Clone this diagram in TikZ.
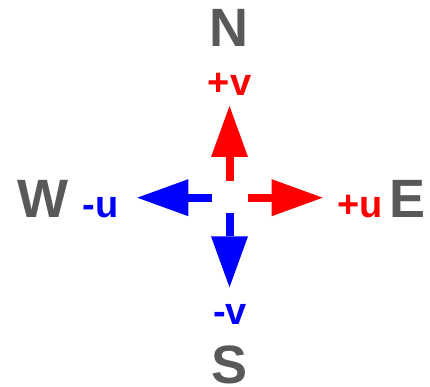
\documentclass[tikz,border=0pt]{standalone}
\usepackage{fontspec}
\setmainfont{Liberation Sans}
\usetikzlibrary{arrows.meta}
\definecolor{cardgray}{HTML}{595959}
\definecolor{vred}{HTML}{FF0000}
\definecolor{vblue}{HTML}{0000FF}
\tikzset{
  cardinal/.style={anchor=base, inner sep=0pt, text=cardgray, font=\fontsize{54}{54}\selectfont\bfseries},
  comp/.style={anchor=base, inner sep=0pt, font=\fontsize{38}{38}\selectfont\bfseries},
  vecarrow/.style={line width=8pt, -{Triangle[length=51pt,width=37pt,line width=0pt]}}
}
\begin{document}
\begin{tikzpicture}[x=1pt,y=-1pt]
  \useasboundingbox (0,0) rectangle (430,387);
  % cardinal letters
  \node[cardinal] (N) at (229,47) {N};
  \node[cardinal] (S) at (229.5,383) {S};
  \node[cardinal] (W) at (43,217) {W};
  \node[cardinal] (E) at (408,217) {E};
  % component labels
  \node[comp, text=vred] (pv) at (229.5,95.7) {+v};
  \node[comp, text=vblue] (mv) at (230,324) {-v};
  \node[comp, text=vblue] (mu) at (100.5,217) {-u};
  \node[comp, text=vred] (pu) at (360,217) {+u};
  % arrow end points
  \coordinate (upS) at (229.5,181);
  \coordinate (upT) at (229.5,106);
  \coordinate (dnS) at (229.5,213.3);
  \coordinate (dnT) at (229.5,287.3);
  \coordinate (lfS) at (211.7,197.7);
  \coordinate (lfT) at (137.3,197.7);
  \coordinate (rtS) at (248.3,197.7);
  \coordinate (rtT) at (322.7,197.7);
  \draw[vecarrow, vred] (upS) -- (upT);
  \draw[vecarrow, vblue] (dnS) -- (dnT);
  \draw[vecarrow, vblue] (lfS) -- (lfT);
  \draw[vecarrow, vred] (rtS) -- (rtT);
\end{tikzpicture}
\end{document}
